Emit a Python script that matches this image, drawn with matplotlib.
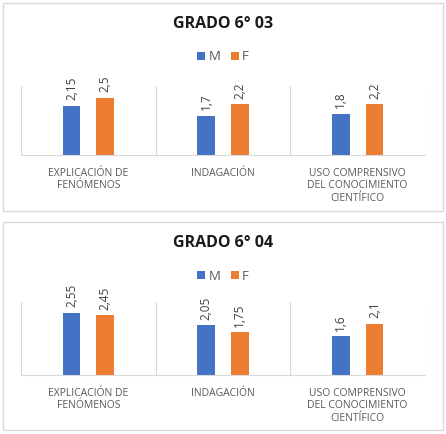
import matplotlib.pyplot as plt
from matplotlib.patches import Rectangle
import numpy as np

plt.rcParams['font.family'] = ['Open Sans', 'DejaVu Sans']

categories = ["EXPLICACIÓN DE\nFENÓMENOS", "INDAGACIÓN",
              "USO COMPRENSIVO\nDEL CONOCIMIENTO\nCIENTÍFICO"]
titles = ["GRADO 6° 03", "GRADO 6° 04"]
m_03 = [2.15, 1.7, 1.8]
f_03 = [2.5, 2.2, 2.2]
m_04 = [2.55, 2.05, 1.6]
f_04 = [2.45, 1.75, 2.1]
labels_m_03 = ["2,15", "1,7", "1,8"]
labels_f_03 = ["2,5", "2,2", "2,2"]
labels_m_04 = ["2,55", "2,05", "1,6"]
labels_f_04 = ["2,45", "1,75", "2,1"]

BLUE = "#4472C4"
ORANGE = "#ED7D31"
GRID = "#D9D9D9"
TEXT = "#595959"

W, H = 446, 434
fig = plt.figure(figsize=(W / 100, H / 100), dpi=100)


def fx(px):
    return px / W


def fy(py):
    return 1 - py / H


def panel(top, title, m_vals, f_vals, m_labels, f_labels, base, ptop):
    # border of the chart box
    fig.patches.append(Rectangle((fx(3), fy(top + 208)), fx(440), 208 / H,
                                 transform=fig.transFigure, fill=False,
                                 edgecolor=GRID, linewidth=1))
    fig.text(0.5, fy(top + 21), title, ha="center", va="center",
             fontsize=11.5, fontweight="bold", color="#1a1a1a")

    ax = fig.add_axes([fx(21), fy(base), fx(404), (base - ptop) / H])
    x = np.arange(len(categories))
    w = 0.13
    off = 0.125
    bm = ax.bar(x - off, m_vals, w, color=BLUE, label="M")
    bf = ax.bar(x + off, f_vals, w, color=ORANGE, label="F")
    for bars, labs in ((bm, m_labels), (bf, f_labels)):
        for b, lab in zip(bars, labs):
            ax.annotate(lab, (b.get_x() + b.get_width() / 2, b.get_height()),
                        xytext=(0, 4), textcoords="offset points",
                        rotation=90, ha="center", va="bottom",
                        fontsize=8.5, color="#404040")
    ax.set_xlim(-0.5, 2.5)
    ax.set_ylim(0, 3)
    ax.set_yticks([])
    ax.set_xticks(x)
    ax.set_xticklabels(categories, fontsize=7.5, color=TEXT, linespacing=1.2)
    ax.set_xticks([-0.5, 0.5, 1.5, 2.5], minor=True)
    ax.tick_params(axis="x", which="both", length=0, pad=9)
    ax.grid(True, which="minor", axis="x", color=GRID, linewidth=0.8)
    for s in ("top", "left", "right"):
        ax.spines[s].set_visible(False)
    ax.spines["bottom"].set_color(GRID)
    ax.legend(loc="center", bbox_to_anchor=(0.5, fy(top + 54)),
              bbox_transform=fig.transFigure, ncol=2, frameon=False,
              fontsize=9.5, handlelength=0.6, handleheight=0.6,
              handletextpad=0.25, columnspacing=0.8, labelcolor=TEXT)


panel(3, titles[0], m_03, f_03, labels_m_03, labels_f_03, 155, 86)
panel(222, titles[1], m_04, f_04, labels_m_04, labels_f_04, 375, 302)

fig.savefig("out.png", dpi=100)
